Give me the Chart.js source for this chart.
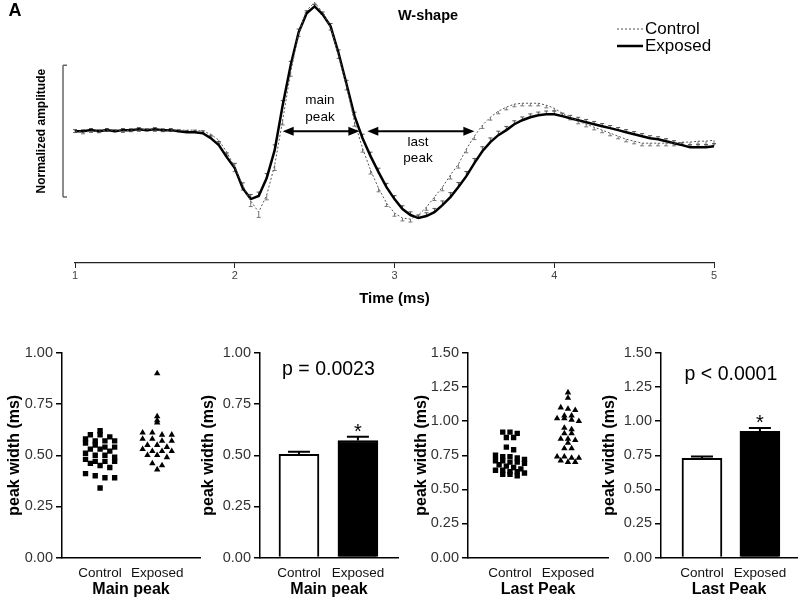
<!DOCTYPE html>
<html><head><meta charset="utf-8">
<script src="https://cdn.jsdelivr.net/npm/chart.js@4.4.1/dist/chart.umd.min.js"></script>
<style>
html,body{margin:0;padding:0;background:#fff;width:800px;height:601px;overflow:hidden}
canvas{position:absolute}
</style></head>
<body>
<canvas id="cA" width="800" height="310" style="left:0;top:0"></canvas>
<canvas id="cBs" width="205" height="271" style="left:0;top:330px"></canvas>
<canvas id="cBb" width="205" height="271" style="left:195px;top:330px"></canvas>
<canvas id="cCs" width="215" height="271" style="left:400px;top:330px"></canvas>
<canvas id="cCb" width="210" height="271" style="left:590px;top:330px"></canvas>
<script>
// ---------- Panel A data (normalized amplitude, W-shape) ----------
const timeMs = [1.00,1.05,1.10,1.15,1.20,1.25,1.30,1.35,1.40,1.45,1.50,1.55,1.60,1.65,1.70,1.75,1.80,1.85,1.90,1.95,2.00,2.05,2.10,2.15,2.20,2.25,2.30,2.35,2.40,2.45,2.50,2.55,2.60,2.65,2.70,2.75,2.80,2.85,2.90,2.95,3.00,3.05,3.10,3.15,3.20,3.25,3.30,3.35,3.40,3.45,3.50,3.55,3.60,3.65,3.70,3.75,3.80,3.85,3.90,3.95,4.00,4.05,4.10,4.15,4.20,4.25,4.30,4.35,4.40,4.45,4.50,4.55,4.60,4.65,4.70,4.75,4.80,4.85,4.90,4.95,5.00];
const exposedAmp = [0,0,0.008,0,0.008,0,0.008,0.008,0.015,0.008,
 0.015,0.008,0.008,0,-0.008,-0.008,-0.015,-0.053,-0.106,-0.197,
 -0.280,-0.432,-0.515,-0.492,-0.356,-0.144,0.197,0.500,0.750,0.894,
 0.947,0.886,0.795,0.591,0.356,0.114,-0.053,-0.189,-0.311,-0.424,
 -0.515,-0.591,-0.636,-0.659,-0.644,-0.614,-0.561,-0.500,-0.424,-0.341,
 -0.242,-0.152,-0.083,-0.030,0.008,0.053,0.083,0.106,0.121,0.129,
 0.129,0.114,0.098,0.083,0.068,0.053,0.038,0.023,0.008,-0.008,
 -0.023,-0.038,-0.053,-0.061,-0.076,-0.091,-0.106,-0.121,-0.121,-0.121,
 -0.114];
const controlAmp = [0,-0.008,0,0,0.008,0.008,0,0.008,0.008,0.015,
 0.008,0.008,0.008,0.008,0.008,0.008,0,-0.023,-0.068,-0.159,
 -0.273,-0.409,-0.530,-0.614,-0.485,-0.258,0.083,0.447,0.742,0.917,
 0.977,0.902,0.788,0.576,0.341,0.068,-0.129,-0.295,-0.432,-0.545,
 -0.621,-0.659,-0.667,-0.636,-0.576,-0.500,-0.424,-0.333,-0.250,-0.136,
 -0.038,0.045,0.106,0.152,0.182,0.205,0.212,0.212,0.212,0.197,
 0.174,0.136,0.106,0.076,0.053,0.030,0.008,-0.015,-0.038,-0.061,
 -0.076,-0.091,-0.091,-0.091,-0.091,-0.091,-0.083,-0.083,-0.076,-0.076,
 -0.068];
const exposedSem = [0.012,0.010,0.012,0.010,0.012,0.010,0.012,0.010,0.012,0.010,
 0.012,0.010,0.012,0.010,0.012,0.015,0.018,0.022,0.028,0.032,
 0.036,0.040,0.035,0.030,0.035,0.040,0.035,0.030,0.025,0.020,
 0.015,0.018,0.022,0.026,0.030,0.030,0.030,0.030,0.030,0.028,
 0.026,0.025,0.024,0.024,0.025,0.028,0.032,0.034,0.035,0.035,
 0.035,0.034,0.032,0.030,0.028,0.026,0.025,0.025,0.024,0.024,
 0.024,0.023,0.022,0.022,0.021,0.021,0.020,0.020,0.020,0.020,
 0.020,0.020,0.019,0.019,0.019,0.019,0.018,0.018,0.018,0.018,
 0.018];
const controlSem = [0.010,0.012,0.010,0.012,0.010,0.012,0.010,0.012,0.010,0.012,
 0.010,0.012,0.010,0.012,0.012,0.014,0.016,0.020,0.026,0.030,
 0.034,0.038,0.042,0.040,0.036,0.040,0.036,0.030,0.024,0.018,
 0.014,0.016,0.020,0.024,0.028,0.030,0.030,0.030,0.028,0.026,
 0.024,0.022,0.022,0.022,0.024,0.026,0.028,0.030,0.030,0.028,
 0.026,0.024,0.022,0.020,0.020,0.020,0.020,0.020,0.020,0.020,
 0.020,0.020,0.020,0.020,0.020,0.020,0.020,0.020,0.020,0.020,
 0.020,0.020,0.020,0.020,0.020,0.020,0.020,0.020,0.022,0.024,
 0.026];
const timeTicks = [1,2,3,4,5];
const peakArrows = [
  {label:['main','peak'], from:2.30, to:2.78},
  {label:['last','peak'], from:2.83, to:3.50}
];

// ---------- Panels B & C data (peak width, ms) ----------
const groups = ['Control','Exposed'];
const mainControl = [0.62,0.60,0.60,0.59,0.58,0.57,0.57,0.57,0.56,0.55,0.54,0.54,0.53,0.53,0.52,0.51,0.50,0.50,0.49,0.48,0.47,0.47,0.47,0.46,0.45,0.44,0.41,0.40,0.39,0.39,0.34];
const mainExposed = [0.90,0.69,0.67,0.66,0.61,0.61,0.60,0.60,0.58,0.58,0.57,0.57,0.55,0.55,0.54,0.53,0.52,0.52,0.52,0.50,0.50,0.49,0.46,0.45,0.43];
const lastControl = [0.92,0.92,0.91,0.88,0.88,0.81,0.79,0.75,0.74,0.74,0.73,0.72,0.71,0.71,0.70,0.70,0.69,0.68,0.67,0.66,0.65,0.64,0.64,0.63,0.63,0.62,0.61,0.61,0.60];
const lastExposed = [1.21,1.17,1.10,1.09,1.08,1.04,1.04,1.02,1.02,1.01,1.00,0.95,0.94,0.91,0.91,0.87,0.87,0.86,0.84,0.80,0.80,0.74,0.74,0.73,0.73,0.71,0.70,0.70];
const mainMean = [0.505,0.572];
const mainSem = [0.012,0.018];
const lastMean = [0.728,0.925];
const lastSem = [0.012,0.025];
const mainStars = ['','*'];
const lastStars = ['','*'];
const mainP = 'p = 0.0023';
const lastP = 'p < 0.0001';
const mainTicks = [0,0.25,0.5,0.75,1.0];
const lastTicks = [0,0.25,0.5,0.75,1.0,1.25,1.5];

// ---------- common ----------
const FONT = 'Arial, "Liberation Sans", Helvetica, sans-serif';
Chart.defaults.font.family = FONT;
Chart.defaults.color = '#000';
Chart.defaults.animation = false;

const waveExtras = {
  id:'waveExtras',
  beforeDatasetsDraw(chart){
    const {ctx, scales:{x,y}} = chart;
    ctx.save();
    chart.data.datasets.forEach(ds=>{
      ctx.strokeStyle = ds.errColor; ctx.lineWidth = 1;
      ds.data.forEach((p,i)=>{
        const px = x.getPixelForValue(p.x), py = y.getPixelForValue(p.y);
        const pe = y.getPixelForValue(p.y + ds.errDir*ds.errors[i]);
        ctx.beginPath(); ctx.moveTo(px,py); ctx.lineTo(px,pe);
        ctx.moveTo(px-2,pe); ctx.lineTo(px+2,pe); ctx.stroke();
      });
    });
    ctx.restore();
  },
  afterDraw(chart){
    const {ctx, scales:{x,y}, chartArea} = chart;
    ctx.save();
    const sx = chartArea.left - 12, y1 = y.getPixelForValue(0.5), y2 = y.getPixelForValue(-0.5);
    ctx.strokeStyle = '#666'; ctx.lineWidth = 1.5;
    ctx.beginPath(); ctx.moveTo(sx,y1); ctx.lineTo(sx,y2);
    ctx.moveTo(sx,y1); ctx.lineTo(sx+4,y1); ctx.moveTo(sx,y2); ctx.lineTo(sx+4,y2); ctx.stroke();
    ctx.fillStyle = '#000';
    ctx.font = 'bold 12px ' + FONT;
    ctx.translate(sx-21, (y1+y2)/2); ctx.rotate(-Math.PI/2);
    ctx.textAlign = 'center'; ctx.textBaseline = 'middle';
    ctx.fillText('Normalized amplitude', 0, 0);
    ctx.setTransform(1,0,0,1,0,0);
    peakArrows.forEach(a=>{
      const xa = x.getPixelForValue(a.from), xb = x.getPixelForValue(a.to), ya = y.getPixelForValue(0);
      const hl = 11, hh = 4.5;
      ctx.strokeStyle = '#000'; ctx.lineWidth = 2;
      ctx.beginPath(); ctx.moveTo(xa+hl-1,ya); ctx.lineTo(xb-hl+1,ya); ctx.stroke();
      ctx.beginPath(); ctx.moveTo(xa,ya); ctx.lineTo(xa+hl,ya-hh); ctx.lineTo(xa+hl,ya+hh); ctx.closePath(); ctx.fill();
      ctx.beginPath(); ctx.moveTo(xb,ya); ctx.lineTo(xb-hl,ya-hh); ctx.lineTo(xb-hl,ya+hh); ctx.closePath(); ctx.fill();
    });
    ctx.font = '13.5px ' + FONT; ctx.textAlign = 'center'; ctx.textBaseline = 'middle';
    ctx.fillText(peakArrows[0].label[0], 320, 100);
    ctx.fillText(peakArrows[0].label[1], 320, 117);
    ctx.fillText(peakArrows[1].label[0], 418, 142);
    ctx.fillText(peakArrows[1].label[1], 418, 158);
    ctx.font = 'bold 14.5px ' + FONT;
    ctx.fillText('W-shape', 428, 16);
    ctx.font = 'bold 18px ' + FONT;
    ctx.fillText('A', 15, 11);
    const ds = chart.data.datasets;
    const ly = [29, 46];
    ds.forEach((d,i)=>{
      ctx.strokeStyle = d.borderColor; ctx.lineWidth = d.borderWidth;
      ctx.setLineDash(d.borderDash || []);
      ctx.beginPath(); ctx.moveTo(617, ly[i]); ctx.lineTo(643, ly[i]); ctx.stroke();
      ctx.setLineDash([]);
      ctx.textAlign = 'left'; ctx.font = '17px ' + FONT; ctx.fillStyle = '#000';
      ctx.fillText(d.label, 645, ly[i]);
    });
    ctx.restore();
  }
};

new Chart(document.getElementById('cA'), {
  type:'line',
  data:{datasets:[
    {label:'Control', data: timeMs.map((t,i)=>({x:t,y:controlAmp[i]})), borderColor:'#555', borderWidth:1, borderDash:[2,2], pointRadius:0, tension:0, errors:controlSem, errDir:-1, errColor:'#777'},
    {label:'Exposed', data: timeMs.map((t,i)=>({x:t,y:exposedAmp[i]})), borderColor:'#000', borderWidth:2.5, pointRadius:0, tension:0, errors:exposedSem, errDir:1, errColor:'#555'}
  ]},
  options:{
    responsive:false, animation:false,
    layout:{padding:{left:75,right:86,top:2,bottom:0}},
    plugins:{legend:{display:false}, tooltip:{enabled:false}},
    scales:{
      x:{type:'linear', min:1, max:5,
        afterBuildTicks(s){ s.ticks = timeTicks.map(v=>({value:v})); },
        afterFit(s){ s.height = 47; },
        border:{display:true, color:'#222', width:1.2},
        grid:{drawOnChartArea:false, drawTicks:true, tickLength:5, color:'#222', lineWidth:1},
        ticks:{color:'#444', font:{size:11}, padding:1, maxRotation:0},
        title:{display:true, text:'Time (ms)', color:'#000', font:{size:15, weight:'bold'}, padding:{top:0,bottom:2}}
      },
      y:{display:false, min:-1.0, max:0.98}
    }
  },
  plugins:[waveExtras]
});

// ---------- Panels B, C ----------
// column-scatter layout: values falling in the same row (bin) are spread sideways
function swarm(values, center, bin, step){
  const rows = {};
  values.forEach(v=>{ const k = Math.round(v/bin); (rows[k] = rows[k] || []).push(v); });
  const pts = [];
  Object.values(rows).forEach(r=>r.forEach((v,i)=>pts.push({x:center+(i-(r.length-1)/2)*step, y:v})));
  return pts;
}

function yAxis(ticksArr, width, titlePad){
  return {
    min:0, max:ticksArr[ticksArr.length-1],
    afterBuildTicks(s){ s.ticks = ticksArr.map(v=>({value:v})); },
    afterFit(s){ s.width = width; },
    border:{color:'#000', width:1.5},
    grid:{drawOnChartArea:false, tickLength:6, color:'#000', lineWidth:1.5},
    ticks:{callback:v=>v.toFixed(2), color:'#333', font:{size:14.5}, padding:3},
    title:{display:true, text:'peak width (ms)', color:'#000', font:{size:16, weight:'bold'}, padding:{top:titlePad,bottom:0}}
  };
}
function xAxis(min, max, title){
  return {
    type:'linear', min, max, offset:false,
    afterBuildTicks(s){ s.ticks = groups.map((g,i)=>({value:i+1})); },
    afterFit(s){ s.height = 43.5; },
    border:{color:'#000', width:1.5},
    grid:{drawOnChartArea:false, drawTicks:false, offset:false},
    ticks:{callback:(v,i)=>groups[i], color:'#111', font:{size:13.5}, padding:8, maxRotation:0, autoSkip:false},
    title:{display:true, text:title, color:'#000', font:{size:16, weight:'bold'}, padding:{top:0,bottom:1.5}}
  };
}
function letterPlugin(letter, lx, ly){
  return {id:'letter'+letter, afterDraw(chart){
    const ctx = chart.ctx; ctx.save();
    ctx.font = 'bold 23px ' + FONT; ctx.fillStyle = '#000'; ctx.textAlign = 'center'; ctx.textBaseline = 'middle';
    ctx.fillText(letter, lx, ly); ctx.restore();
  }};
}
function makeScatter(id, ctrl, expo, ticksArr, yw, titlePad, xmin, xmax, title, bin, step, padRight, letter, lx, ly){
  new Chart(document.getElementById(id), {
    type:'scatter',
    data:{datasets:[
      {data:swarm(ctrl,1,bin,step), pointStyle:'rect', pointRadius:3.8, backgroundColor:'#000', borderWidth:0},
      {data:swarm(expo,2,bin,step), pointStyle:'triangle', pointRadius:3.7, backgroundColor:'#000', borderWidth:0}
    ]},
    options:{
      responsive:false, animation:false,
      layout:{padding:{left:0,right:padRight,top:23,bottom:0}},
      plugins:{legend:{display:false}, tooltip:{enabled:false}},
      scales:{x:xAxis(xmin,xmax,title), y:yAxis(ticksArr,yw,titlePad)}
    },
    plugins:[letterPlugin(letter,lx,ly)]
  });
}
function makeBar(id, means, sems, stars, pText, pVal, ticksArr, yw, titlePad, xmin, xmax, title, padRight){
  const barExtras = {id:'barExtras', afterDatasetsDraw(chart){
    const {ctx, scales:{x,y}} = chart; ctx.save();
    ctx.strokeStyle = '#000'; ctx.lineWidth = 2; ctx.fillStyle = '#000';
    means.forEach((m,i)=>{
      const px = x.getPixelForValue(i+1), p0 = y.getPixelForValue(m), p1 = y.getPixelForValue(m+sems[i]);
      ctx.beginPath(); ctx.moveTo(px,p0); ctx.lineTo(px,p1); ctx.moveTo(px-11,p1); ctx.lineTo(px+11,p1); ctx.stroke();
      if (stars[i]) { ctx.font = '20px ' + FONT; ctx.textAlign='center'; ctx.textBaseline='alphabetic'; ctx.fillText(stars[i], px, p1+1); }
    });
    ctx.font = '19.5px ' + FONT; ctx.textAlign='center'; ctx.textBaseline='middle';
    ctx.fillText(pText, x.getPixelForValue(1.5), y.getPixelForValue(pVal));
    ctx.restore();
  }};
  new Chart(document.getElementById(id), {
    type:'bar',
    data:{datasets:[{data:means.map((m,i)=>({x:i+1,y:m})), backgroundColor:['#fff','#000'], borderColor:'#000', borderWidth:2, barThickness:40}]},
    options:{
      responsive:false, animation:false,
      layout:{padding:{left:0,right:padRight,top:23,bottom:0}},
      plugins:{legend:{display:false}, tooltip:{enabled:false}},
      scales:{x:xAxis(xmin,xmax,title), y:yAxis(ticksArr,yw,titlePad)}
    },
    plugins:[barExtras]
  });
}

makeScatter('cBs', mainControl, mainExposed, mainTicks, 62, 5.4, 0.333, 2.75, 'Main peak', 0.025, 0.17, 5, 'B', 13, 352);
makeBar('cBb', mainMean, mainSem, mainStars, mainP, 0.92, mainTicks, 65, 4.4, 0.339, 2.68, 'Main peak', 2);
makeScatter('cCs', lastControl, lastExposed, lastTicks, 68, 12.4, 0.276, 2.69, 'Last Peak', 0.035, 0.125, 7, 'C', 22, 354);
makeBar('cCb', lastMean, lastSem, lastStars, lastP, 1.34, lastTicks, 71, 10.4, 0.293, 2.64, 'Last Peak', 3);
</script>
</body></html>
